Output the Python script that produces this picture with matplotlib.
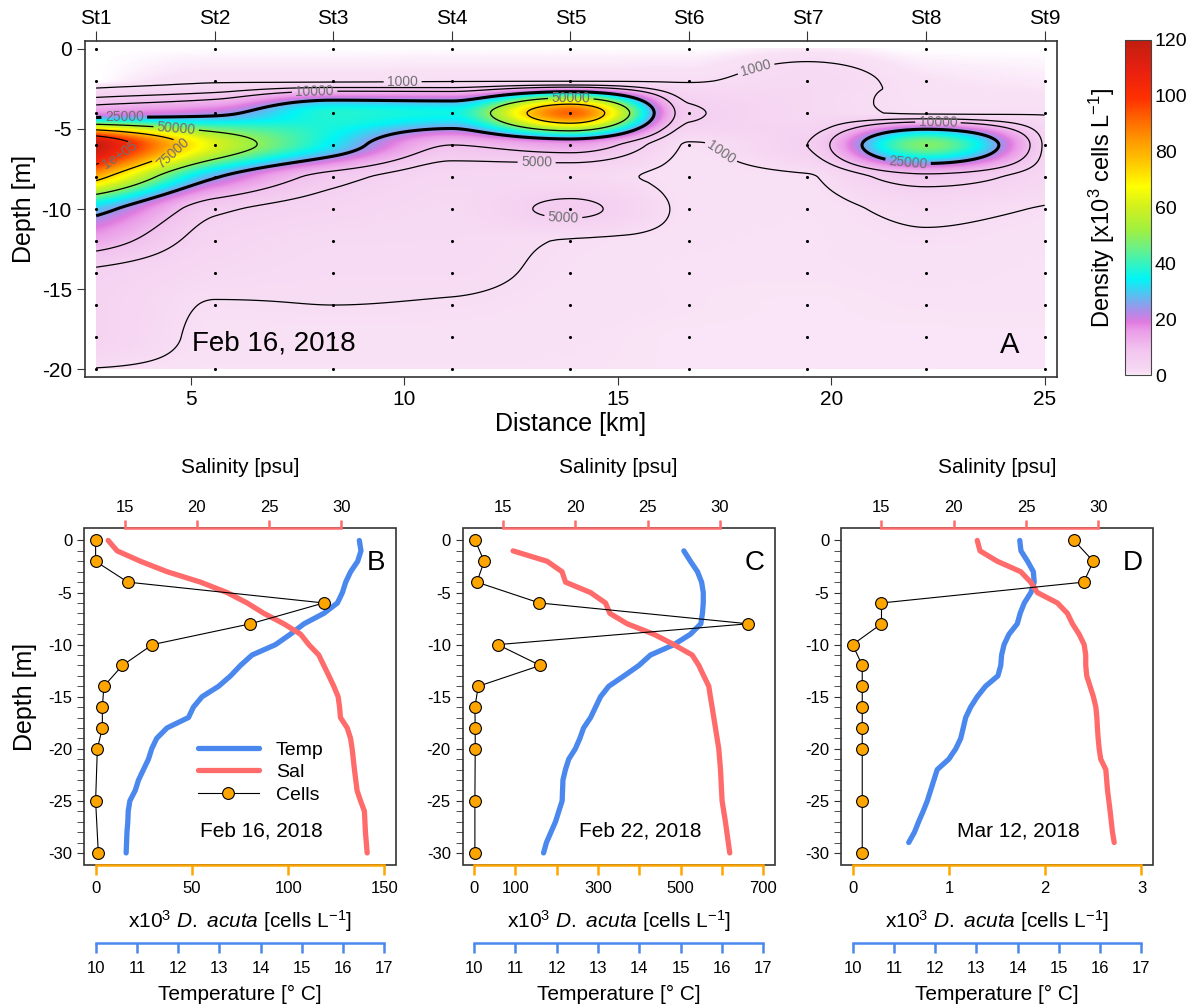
import numpy as np
import matplotlib
matplotlib.use('Agg')
import matplotlib.pyplot as plt
from matplotlib.colors import LinearSegmentedColormap
from matplotlib.patches import Rectangle

plt.rcParams['font.family'] = ['Liberation Sans', 'DejaVu Sans']
plt.rcParams['mathtext.fontset'] = 'custom'
plt.rcParams['mathtext.rm'] = 'Liberation Sans'
plt.rcParams['mathtext.it'] = 'Liberation Sans:italic'
plt.rcParams['axes.unicode_minus'] = False

# ---- section data (A): D. acuta density, x10^3 cells/L ----
station_names = ['St1', 'St2', 'St3', 'St4', 'St5', 'St6', 'St7', 'St8', 'St9']
station_km = [2.78, 5.56, 8.33, 11.11, 13.89, 16.67, 19.44, 22.22, 25.0]
sample_depth = [0, 2, 4, 6, 8, 10, 12, 14, 16, 18, 20]
# rows = depth, columns = station
density = [
    [0.0, 0.0, 0.0, 0.0, 0.0, 0.0, 0.3, 0.0, 0.0],
    [0.0, 0.8, 0.8, 0.9, 0.9, 0.9, 1.8, 0.5, 0.3],
    [16.7, 22.0, 38.0, 36.0, 92.0, 6.0, 2.0, 0.8, 0.9],
    [118.5, 62.0, 33.0, 10.0, 15.0, 0.8, 5.0, 48.0, 4.0],
    [80.4, 26.0, 7.0, 2.5, 2.0, 0.5, 0.8, 8.0, 2.5],
    [29.5, 6.0, 3.0, 1.8, 6.0, 0.6, 0.5, 1.5, 0.9],
    [13.9, 3.0, 1.6, 1.5, 0.9, 0.5, 0.45, 0.8, 0.5],
    [4.3, 1.8, 1.3, 1.3, 0.7, 0.45, 0.45, 0.5, 0.45],
    [3.5, 0.9, 1.0, 0.9, 0.6, 0.45, 0.4, 0.45, 0.45],
    [3.5, 0.6, 0.6, 0.6, 0.5, 0.4, 0.4, 0.4, 0.4],
    [0.9, 0.45, 0.45, 0.45, 0.45, 0.4, 0.4, 0.4, 0.4],
]
contour_levels = [1, 5, 10, 25, 50, 75, 100]
contour_names = {1: '1000', 5: '5000', 10: '10000', 25: '25000',
                 50: '50000', 75: '75000', 100: '1e+05'}
# where the contour labels sit (km, depth)
label_spots = [(9.96, -2.1), (7.9, -2.85), (3.44, -4.44), (4.65, -5.13), (4.67, -6.9),
               (3.4, -6.94), (13.9, -3.2), (13.1, -7.0), (13.72, -10.7), (18.37, -2.46),
               (17.59, -5.86), (22.5, -4.65), (21.8, -7.04)]

# ---- profiles (B, C, D) ----
cell_depth = [0, -2, -4, -6, -8, -10, -12, -14, -16, -18, -20, -25, -30]
cells_feb16 = [0, 0, 16.7, 118.5, 80.4, 29.5, 13.9, 4.3, 3.5, 3.5, 0.9, 0, 1.4]
cells_feb22 = [2.4, 24, 6.5, 158, 664, 57, 160, 9.7, 1.6, 2.4, 2.4, 1.6, 1.6]
cells_mar12 = [2.30, 2.50, 2.40, 0.30, 0.30, 0.0, 0.10, 0.10, 0.10, 0.10, 0.10, 0.10, 0.10]

temp_depth_feb16 = list(range(0, -31, -1))
temp_feb16 = [16.39, 16.43, 16.35, 16.18, 16.06, 15.98, 15.86, 15.53, 15.05, 14.72, 14.36,
              13.79, 13.51, 13.27, 12.98, 12.58, 12.37, 12.25, 11.73, 11.48, 11.36,
              11.28, 11.16, 11.04, 10.96, 10.83, 10.79, 10.78, 10.76, 10.75, 10.74]
sal_depth_feb16 = [0, -1, -2, -3, -4, -5, -6, -7, -8, -9, -10, -11, -12, -13, -14, -15,
                   -16, -17, -18, -19, -20, -22, -24, -25, -26, -28, -30]
sal_feb16 = [13.87, 14.49, 16.11, 17.95, 20.26, 22.1, 23.49, 24.65, 26.03, 27.19, 27.76,
             28.45, 28.8, 29.15, 29.49, 29.79, 29.89, 29.95, 30.42, 30.65, 30.76,
             30.92, 31.1, 31.34, 31.61, 31.68, 31.8]

temp_depth_feb22 = list(range(-1, -31, -1))
temp_feb22 = [15.08, 15.24, 15.41, 15.51, 15.55, 15.55, 15.53, 15.49, 15.24, 14.84,
              14.27, 13.99, 13.63, 13.26, 13.06, 12.94, 12.82, 12.65, 12.56, 12.45,
              12.29, 12.21, 12.15, 12.14, 12.13, 12.05, 11.97, 11.86, 11.75, 11.68]
sal_depth_feb22 = [-1, -2, -3, -4, -5, -6, -7, -8, -9, -10, -11, -12, -13, -14, -15,
                   -16, -18, -20, -22, -25, -27, -30]
sal_feb22 = [15.69, 18.05, 19.08, 19.32, 21.05, 22.09, 22.39, 23.59, 25.43, 26.82,
             28.09, 28.55, 28.89, 29.24, 29.35, 29.47, 29.7, 29.93, 30.05, 30.16,
             30.39, 30.69]

temp_depth_mar12 = list(range(0, -30, -1))
temp_mar12 = [14.05, 14.08, 14.24, 14.38, 14.40, 14.32, 14.16, 14.06, 13.99, 13.79,
              13.67, 13.61, 13.59, 13.52, 13.22, 13.02, 12.86, 12.74, 12.68, 12.62,
              12.50, 12.33, 12.05, 11.97, 11.89, 11.81, 11.71, 11.60, 11.50, 11.36]
sal_depth_mar12 = [0, -1, -2, -3, -4, -5, -6, -7, -8, -9, -10, -11, -12, -13, -14,
                   -15, -16, -17, -18, -19, -20, -21, -22, -24, -26, -28, -29]
sal_mar12 = [21.63, 21.82, 23.02, 24.64, 25.33, 25.79, 27.18, 27.87, 28.22, 28.68,
             29.03, 29.14, 29.14, 29.21, 29.44, 29.67, 29.84, 29.91, 29.95, 30.0,
             30.07, 30.18, 30.53, 30.65, 30.83, 30.99, 31.11]

BLUE = '#4A88EE'
RED = '#FF6B6B'
ORANGE = '#FFA500'
BOX = '#333333'

# fine colour table, so the faint pinks below 1 (x10^3) are not lost in the first bin
cmap = LinearSegmentedColormap.from_list('dens', [
    (0.0, '#FFFFFF'), (0.2 / 120, '#FCEFFB'), (0.45 / 120, '#F9E2F6'),
    (1.5 / 120, '#F7DAF4'), (9 / 120, '#F2C4EF'), (16 / 120, '#EA9BE8'),
    (19 / 120, '#E07AE0'), (23 / 120, '#A98EE8'), (27 / 120, '#6FB0F0'),
    (34.5 / 120, '#00F6F6'), (46 / 120, '#70F080'), (52 / 120, '#A0F040'),
    (60 / 120, '#D0F020'), (67.5 / 120, '#FFFF00'), (76 / 120, '#FFC800'),
    (84 / 120, '#FF9800'), (91 / 120, '#FF6A00'), (99 / 120, '#FF3000'),
    (109 / 120, '#E82010'), (1.0, '#C01E10')], N=4096)


def pchip(x, y, xn):
    # monotone cubic (no overshoot) for the gridded section
    x = np.asarray(x, float)
    y = np.asarray(y, float)
    h = np.diff(x)
    d = np.diff(y) / h
    m = np.zeros_like(y)
    m[0], m[-1] = d[0], d[-1]
    for k in range(1, len(y) - 1):
        if d[k - 1] * d[k] > 0:
            w1 = 2 * h[k] + h[k - 1]
            w2 = h[k] + 2 * h[k - 1]
            m[k] = (w1 + w2) / (w1 / d[k - 1] + w2 / d[k])
    i = np.clip(np.searchsorted(x, xn, side='right') - 1, 0, len(x) - 2)
    t = (xn - x[i]) / h[i]
    return ((2 * t**3 - 3 * t**2 + 1) * y[i] + (t**3 - 2 * t**2 + t) * h[i] * m[i]
            + (-2 * t**3 + 3 * t**2) * y[i + 1] + (t**3 - t**2) * h[i] * m[i + 1])


fig = plt.figure(figsize=(11.94, 10.07), dpi=100)

# ================= panel A =================
axA = fig.add_axes([0.0712, 0.6259, 0.8141, 0.3334])
z = np.array(density)
zf_depth = np.linspace(0, 20, 241)
xf = np.linspace(station_km[0], station_km[-1], 601)
cols = np.column_stack([pchip(sample_depth, z[:, c], zf_depth) for c in range(z.shape[1])])
field = np.vstack([pchip(station_km, row, xf) for row in cols])

img = axA.imshow(field, extent=[station_km[0], station_km[-1], -20, 0], origin='upper',
                 aspect='auto', cmap=cmap, vmin=0, vmax=120, interpolation='bilinear')
cs = axA.contour(xf, -zf_depth, field, levels=contour_levels, colors='k',
                 linewidths=[0.9, 0.9, 0.9, 2.2, 0.9, 0.9, 0.9])
axA.clabel(cs, fmt=contour_names, fontsize=10, colors='#707070', inline=True,
           inline_spacing=4, manual=label_spots)
xx, yy = np.meshgrid(station_km, sample_depth)
axA.scatter(xx.ravel(), -yy.ravel(), s=5, c='k', zorder=5, linewidths=0)

axA.set_xlim(2.52, 25.29)
axA.set_ylim(-20.48, 0.5)
axA.set_xticks([5, 10, 15, 20, 25])
axA.set_yticks([0, -5, -10, -15, -20])
axA.tick_params(labelsize=15, length=6, color=BOX)
for s in axA.spines.values():
    s.set_color(BOX)
    s.set_linewidth(1.2)
axA.set_xlabel('Distance [km]', fontsize=18, labelpad=2)
axA.set_ylabel('Depth [m]', fontsize=18, labelpad=4)
top = axA.secondary_xaxis('top')
top.set_xticks(station_km, labels=station_names)
top.tick_params(labelsize=15, length=7, color=BOX, pad=2)
top.spines['top'].set_visible(False)
axA.text(6.95, -18.4, 'Feb 16, 2018', fontsize=20, ha='center', va='center')
axA.text(24.19, -18.5, 'A', fontsize=21, ha='center', va='center')

cax = fig.add_axes([0.9422, 0.6276, 0.0215, 0.3327])
cb = fig.colorbar(img, cax=cax, ticks=range(0, 121, 20))
cb.outline.set_edgecolor('#444444')
cax.tick_params(labelsize=14, length=0, pad=3)
cb.set_label('Density [x10$^3$ cells L$^{-1}$]', fontsize=17, labelpad=6)
cax.yaxis.set_label_position('left')


# ================= panels B, C, D =================
def profile(left, cells, cmax, cticks, clabels, td, temp, sd, sal, letter, date,
            ylabel=False, legend=False):
    ax = fig.add_axes([left, 0.1406, 0.2613, 0.3351])
    ax_s = ax.twiny()
    ax_t = ax.twiny()
    ax_t.set_zorder(1)
    ax_s.set_zorder(2)
    ax.set_zorder(3)
    for a in (ax, ax_s, ax_t):
        a.patch.set_visible(False)

    pad = 0.04
    ax.set_xlim(-pad * cmax, (1 + pad) * cmax)
    ax_t.set_xlim(10 - pad * 7, 17 + pad * 7)
    ax_s.set_xlim(13 - pad * 20, 33 + pad * 20)
    ax.set_ylim(-31.2, 1.2)

    ax_t.add_patch(Rectangle((0, 0), 1, 1, transform=ax_t.transAxes, fill=False,
                             ec=BOX, lw=1.2, clip_on=False))
    lt, = ax_t.plot(temp, td, color=BLUE, lw=3.8, solid_capstyle='round')
    ls, = ax_s.plot(sal, sd, color=RED, lw=3.8, solid_capstyle='round')
    lc, = ax.plot(cells, cell_depth, '-o', color='k', lw=0.8, mfc=ORANGE, mec='k',
                  mew=0.8, ms=8.5)

    # cells axis (bottom, orange)
    for s in ('top', 'left', 'right'):
        ax.spines[s].set_visible(False)
    ax.spines['bottom'].set_color(ORANGE)
    ax.spines['bottom'].set_linewidth(1.8)
    ax.spines['bottom'].set_bounds(0, cmax)
    ax.set_xticks(cticks, labels=clabels)
    ax.tick_params(axis='x', color=ORANGE, width=1.8, length=7, labelsize=12, pad=4)
    ax.set_xlabel(r'x10$^3$ $\it{D.\ acuta}$ [cells L$^{-1}$]', fontsize=15, labelpad=9)
    ax.set_yticks(range(-30, 1, 5))
    ax.set_yticks(range(-30, 1), minor=True)
    ax.tick_params(axis='y', which='both', length=5, color=BOX, labelsize=12)
    if ylabel:
        ax.set_ylabel('Depth [m]', fontsize=18, labelpad=8)

    # salinity axis (top, red)
    for s in ('bottom', 'left', 'right'):
        ax_s.spines[s].set_visible(False)
    ax_s.spines['top'].set_color(RED)
    ax_s.spines['top'].set_linewidth(1.8)
    ax_s.spines['top'].set_bounds(15, 30)
    ax_s.set_xticks([15, 20, 25, 30])
    ax_s.tick_params(axis='x', color=RED, width=1.8, length=6, labelsize=12, pad=3)
    ax_s.set_xlabel('Salinity [psu]', fontsize=15, labelpad=20)

    # temperature axis (offset bottom, blue)
    ax_t.xaxis.set_ticks_position('bottom')
    ax_t.xaxis.set_label_position('bottom')
    for s in ('top', 'left', 'right'):
        ax_t.spines[s].set_visible(False)
    ax_t.spines['bottom'].set_position(('outward', 56))
    ax_t.spines['bottom'].set_color(BLUE)
    ax_t.spines['bottom'].set_linewidth(1.8)
    ax_t.spines['bottom'].set_bounds(10, 17)
    ax_t.set_xticks(range(10, 18))
    ax_t.tick_params(axis='x', color=BLUE, width=1.8, length=7, labelsize=12, pad=6)
    ax_t.set_xlabel('Temperature [° C]', fontsize=15, labelpad=6)

    ax.text(0.936, 0.896, letter, transform=ax.transAxes, fontsize=20,
            ha='center', va='center')
    ax.text(0.568, 0.102, date, transform=ax.transAxes, fontsize=15,
            ha='center', va='center')
    if legend:
        ax.legend([lt, ls, lc], ['Temp', 'Sal', 'Cells'], loc='upper left',
                  bbox_to_anchor=(0.31, 0.42), frameon=False, fontsize=14,
                  handlelength=3.1, handletextpad=0.9, labelspacing=0.25)
    return ax


profile(0.0704, cells_feb16, 150, [0, 50, 100, 150], ['0', '50', '100', '150'],
        temp_depth_feb16, temp_feb16, sal_depth_feb16, sal_feb16, 'B', 'Feb 16, 2018',
        ylabel=True, legend=True)
profile(0.3875, cells_feb22, 700, list(range(0, 701, 100)),
        ['0', '100', '', '300', '', '500', '', '700'],
        temp_depth_feb22, temp_feb22, sal_depth_feb22, sal_feb22, 'C', 'Feb 22, 2018')
profile(0.7044, cells_mar12, 3, [0, 1, 2, 3], ['0', '1', '2', '3'],
        temp_depth_mar12, temp_mar12, sal_depth_mar12, sal_mar12, 'D', 'Mar 12, 2018')

fig.savefig('out.png', dpi=100)
